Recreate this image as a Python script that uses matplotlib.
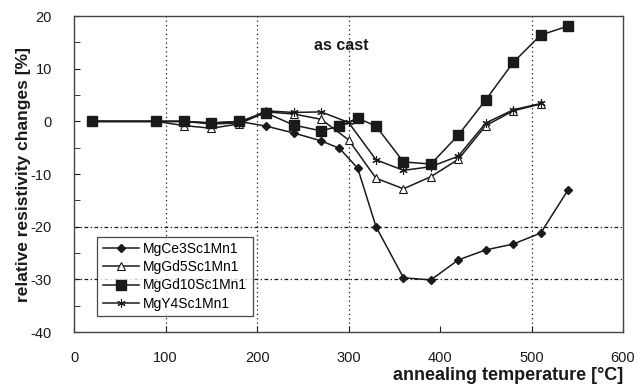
import matplotlib
matplotlib.use('Agg')
import matplotlib.pyplot as plt

plt.rcParams['font.family'] = ['Liberation Sans', 'DejaVu Sans']
plt.rcParams['axes.unicode_minus'] = False

# annealing temperatures [°C]
temp_a = [20, 90, 120, 150, 180, 210, 240, 270, 290, 310, 330, 360, 390, 420, 450, 480, 510, 540]
temp_b = [20, 90, 120, 150, 180, 210, 240, 270, 300, 330, 360, 390, 420, 450, 480, 510]

# relative resistivity changes [%]
ce3 = [0, 0, 0, -0.3, 0, -0.9, -2.2, -3.7, -5.1, -8.9, -20.0, -29.7, -30.1, -26.3, -24.4, -23.3, -21.2, -13.0]
gd10 = [0, 0, 0, -0.3, 0, 1.6, -0.7, -1.8, -0.9, 0.6, -0.9, -7.7, -8.1, -2.6, 4.1, 11.2, 16.4, 18.1]
gd5 = [0, 0, -0.8, -1.3, -0.5, 1.8, 1.4, 0.4, -3.5, -10.8, -12.8, -10.5, -7.2, -0.8, 2.0, 3.3]
y4 = [0, 0, 0, -0.5, -0.3, 2.0, 1.7, 1.8, -0.2, -7.3, -9.3, -8.6, -6.6, -0.3, 2.2, 3.4]

col = '#1a1a1a'

fig = plt.figure(figsize=(6.39, 3.92), dpi=100)
ax = fig.add_axes([0.116, 0.153, 0.859, 0.806])

# partial grid
for xv in [100, 200, 300, 500]:
    ax.axvline(xv, color=col, lw=0.9, ls=(0, (1, 2.5)), zorder=1)
for yv in [-20, -30]:
    ax.axhline(yv, color=col, lw=0.9, ls=(0, (3, 2, 1, 2)), zorder=1)

ax.plot(temp_a, ce3, color=col, lw=1.1, marker='D', ms=4.5, mfc=col, mec=col,
        label='MgCe3Sc1Mn1', zorder=3)
ax.plot(temp_b, gd5, color=col, lw=1.1, marker='^', ms=6, mfc='white', mec=col,
        mew=0.8, label='MgGd5Sc1Mn1', zorder=3)
ax.plot(temp_a, gd10, color=col, lw=1.1, marker='s', ms=7, mfc=col, mec=col,
        label='MgGd10Sc1Mn1', zorder=3)
ax.plot(temp_b, y4, color=col, lw=1.1, marker=(6, 2, 0), ms=6, mec=col,
        mew=0.8, label='MgY4Sc1Mn1', zorder=3)

ax.set_xlim(0, 600)
ax.set_ylim(-40, 20)
ax.set_xticks(range(0, 601, 100))
ax.set_yticks(range(-40, 21, 10))
ax.set_yticks(range(-35, 20, 10), minor=True)
ax.tick_params(axis='both', direction='in', labelsize=10.5, colors=col, length=4)
ax.tick_params(axis='y', which='minor', direction='in', length=4, color=col)
ax.tick_params(axis='x', pad=14)
ax.tick_params(axis='y', pad=16)
for s in ax.spines.values():
    s.set_color('#444444')
    s.set_linewidth(1.0)

ax.set_xlabel('annealing temperature [°C]', fontsize=13, fontweight='bold',
              color=col, loc='right', labelpad=1)
ax.set_ylabel('relative resistivity changes [%]', fontsize=12.5, fontweight='bold',
              color=col, labelpad=0)

ax.text(292, 14.5, 'as cast', fontsize=11.5, fontweight='bold', color=col,
        ha='center', va='center')

leg = ax.legend(loc='upper left', bbox_to_anchor=(0.042, 0.302), fontsize=10,
                frameon=True, fancybox=False, edgecolor=col, handlelength=2.6,
                borderpad=0.4, labelspacing=0.3, handletextpad=0.3,
                borderaxespad=0)
leg.get_frame().set_linewidth(0.9)

fig.savefig('out.png', dpi=100)
